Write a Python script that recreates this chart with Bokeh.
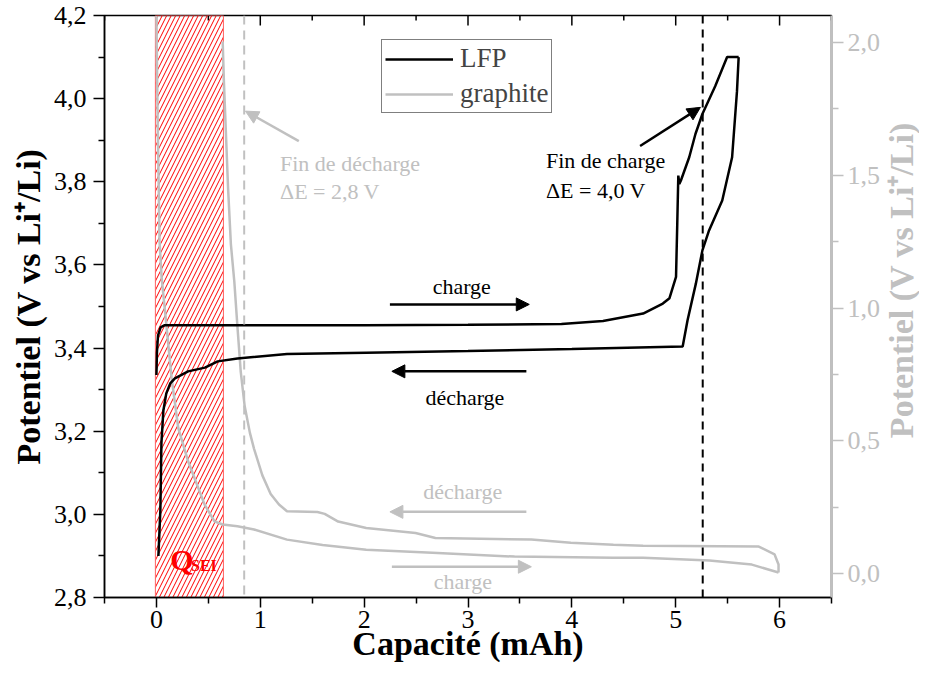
import math
from bokeh.plotting import figure
from bokeh.layouts import row
from bokeh.models import (Range1d, LinearAxis, FixedTicker, CustomJSTickFormatter, Arrow,
                          NormalHead, Label, Legend, LegendItem, Span)
from bokeh.embed import file_html
from bokeh.resources import INLINE

# ---------------- data ----------------
lfp_charge_x = [0.0, 0.005, 0.015, 0.04, 0.08, 0.5, 1.0, 2.0, 3.0, 3.9, 4.3, 4.686, 4.876,
                4.94, 5.003, 5.015, 5.025, 5.035, 5.05, 5.13, 5.19, 5.257, 5.38, 5.495, 5.606]
lfp_charge_y = [3.335, 3.39, 3.43, 3.45, 3.455, 3.455, 3.455, 3.455, 3.456, 3.458, 3.465, 3.483, 3.507,
                3.52, 3.571, 3.70, 3.815, 3.795, 3.803, 3.859, 3.915, 3.963, 4.03, 4.10, 4.10]

lfp_discharge_x = [5.606, 5.59, 5.543, 5.448, 5.321, 5.257, 5.194, 5.114, 5.067, 4.0, 3.0, 2.02,
                   1.257, 0.78, 0.59, 0.467, 0.305, 0.178, 0.133, 0.095, 0.067, 0.048, 0.038, 0.019]
lfp_discharge_y = [4.10, 4.018, 3.859, 3.755, 3.683, 3.635, 3.555, 3.467, 3.404, 3.398, 3.393, 3.389,
                   3.386, 3.375, 3.368, 3.353, 3.344, 3.327, 3.315, 3.291, 3.25, 3.171, 3.011, 2.90]

graphite_charge_x = [0.0, 0.012, 0.03, 0.05, 0.083, 0.146, 0.21, 0.305, 0.464, 0.559, 0.638, 0.78,
                     0.94, 1.257, 1.6, 2.02, 2.657, 3.448, 4.4, 4.686, 5.324, 5.733, 5.99]
graphite_charge_v = [2.10, 1.70, 1.25, 1.115, 0.988, 0.737, 0.549, 0.423, 0.26, 0.197, 0.185, 0.178,
                     0.166, 0.128, 0.108, 0.090, 0.079, 0.064, 0.06, 0.06, 0.049, 0.034, 0.004]

graphite_discharge_x = [5.99, 5.99, 5.952, 5.8, 4.686, 4.4, 3.99, 3.61, 2.686, 2.495, 2.02, 1.75,
                        1.62, 1.55, 1.257, 1.18, 1.10, 1.02, 0.94, 0.90, 0.85, 0.812, 0.78, 0.75,
                        0.717, 0.69, 0.667, 0.65, 0.638]
graphite_discharge_v = [0.004, 0.034, 0.072, 0.102, 0.105, 0.109, 0.116, 0.128, 0.134, 0.153, 0.172, 0.196,
                        0.225, 0.232, 0.235, 0.26, 0.30, 0.37, 0.47, 0.53, 0.63, 0.76, 0.93, 1.10,
                        1.24, 1.45, 1.68, 1.85, 2.004]

sei_range = [-0.01, 0.645]          # Q_SEI region (mAh)
end_discharge_x = 0.845             # fin de décharge
end_charge_x = 5.26                 # fin de charge

x_ticks = [0, 1, 2, 3, 4, 5, 6]
x_minor = [-0.5, 0.5, 1.5, 2.5, 3.5, 4.5, 5.5, 6.5]
left_ticks = [2.8, 3.0, 3.2, 3.4, 3.6, 3.8, 4.0, 4.2]
left_minor = [2.9, 3.1, 3.3, 3.5, 3.7, 3.9, 4.1]
right_ticks = [0.0, 0.5, 1.0, 1.5, 2.0]
right_minor = [0.25, 0.75, 1.25, 1.75]

GRAY = "#c0c0c0"
SERIF = "Liberation Serif"
Y_LABEL = "Potentiel (V vs Li\u207a/Li)"
AXIS_TITLE_SIZE = "34px"

Y0, Y1 = 2.8, 4.2
W_TOTAL, H = 919, 673
W_SIDE = 36
W = W_TOTAL - W_SIDE
B_LEFT, B_RIGHT, B_TOP, B_BOTTOM = 104, 50, 15, 76
FRAME_W = W - B_LEFT - B_RIGHT
FRAME_H = H - B_TOP - B_BOTTOM

p = figure(width=W, height=H, x_range=Range1d(-0.5, 6.5), y_range=Range1d(Y0, Y1),
           output_backend="svg", toolbar_location=None,
           min_border_left=B_LEFT, min_border_right=B_RIGHT,
           min_border_top=B_TOP, min_border_bottom=B_BOTTOM)
p.extra_y_ranges = {"right": Range1d(-0.090, 2.102)}
p.xgrid.visible = False
p.ygrid.visible = False
p.outline_line_color = "black"
p.outline_line_width = 1.5
p.background_fill_color = "white"

comma1 = CustomJSTickFormatter(code="return tick.toFixed(1).replace('.', ',');")
int0 = CustomJSTickFormatter(code="return tick.toFixed(0);")

def style_axis(ax, color, tick_font=26):
    ax.axis_line_color = color
    ax.axis_line_width = 1.5
    ax.major_tick_line_color = color
    ax.major_tick_line_width = 1.5
    ax.minor_tick_line_color = color
    ax.minor_tick_line_width = 1.5
    ax.major_label_text_color = color
    ax.major_label_text_font = SERIF
    ax.major_label_text_font_size = f"{tick_font}px"
    ax.axis_label_text_color = color
    ax.axis_label_text_font = SERIF
    ax.axis_label_text_font_style = "bold"
    ax.axis_label_text_font_size = AXIS_TITLE_SIZE

# left axis
ya = p.yaxis[0]
ya.ticker = FixedTicker(ticks=left_ticks, minor_ticks=left_minor)
ya.formatter = comma1
style_axis(ya, "black")
ya.major_tick_out = 11
ya.major_tick_in = 0
ya.minor_tick_out = 6
ya.minor_tick_in = 0
ya.major_label_standoff = 7
ya.axis_label = Y_LABEL
ya.axis_label_standoff = 4

# bottom axis
xa = p.xaxis[0]
xa.ticker = FixedTicker(ticks=x_ticks, minor_ticks=x_minor)
xa.formatter = int0
style_axis(xa, "black")
xa.major_tick_out = 10
xa.major_tick_in = 0
xa.minor_tick_out = 6
xa.minor_tick_in = 0
xa.major_label_standoff = 3
xa.axis_label = "Capacité (mAh)"
xa.axis_label_standoff = -6

# right axis (graphite)
ra = LinearAxis(y_range_name="right", ticker=FixedTicker(ticks=right_ticks, minor_ticks=right_minor),
                formatter=comma1)
style_axis(ra, GRAY)
ra.axis_line_width = 2
ra.major_tick_out = 12
ra.major_tick_in = 0
ra.minor_tick_out = 7
ra.minor_tick_in = 0
ra.major_label_standoff = 4
p.add_layout(ra, "right")

# inward ticks on the top frame edge
major_len = (Y1 - Y0) / FRAME_H * 10
minor_len = (Y1 - Y0) / FRAME_H * 5
p.segment(x0=x_ticks, y0=[Y1] * len(x_ticks), x1=x_ticks, y1=[Y1 - major_len] * len(x_ticks),
          line_color="black", line_width=1.5)
p.segment(x0=x_minor, y0=[Y1] * len(x_minor), x1=x_minor, y1=[Y1 - minor_len] * len(x_minor),
          line_color="black", line_width=1.5)

# SEI hatched region
p.quad(left=[sei_range[0]], right=[sei_range[1]], bottom=[Y0], top=[Y1],
       fill_color="white", fill_alpha=0.0, line_color="#ff6060", line_width=1,
       hatch_pattern="/", hatch_color="red", hatch_scale=9, hatch_weight=1.0)

# dashed verticals
p.add_layout(Span(location=end_discharge_x, dimension="height", line_color=GRAY,
                  line_dash="9 6", line_width=2))
p.add_layout(Span(location=end_charge_x, dimension="height", line_color="black",
                  line_dash="8 6", line_width=2))

# curves
r_g1 = p.line(graphite_charge_x, graphite_charge_v, y_range_name="right", line_color=GRAY, line_width=2.5)
p.line(graphite_discharge_x, graphite_discharge_v, y_range_name="right", line_color=GRAY, line_width=2.5)
r_l1 = p.line(lfp_charge_x, lfp_charge_y, line_color="black", line_width=2.5)
p.line(lfp_discharge_x, lfp_discharge_y, line_color="black", line_width=2.5)

# arrows
def arrow(x0, y0, x1, y1, color):
    p.add_layout(Arrow(end=NormalHead(size=13, fill_color=color, line_color=color),
                       x_start=x0, y_start=y0, x_end=x1, y_end=y1,
                       line_color=color, line_width=2.5))

arrow(2.248, 3.505, 3.59, 3.505, "black")
arrow(3.562, 3.344, 2.267, 3.344, "black")
arrow(3.562, 3.006, 2.248, 3.006, GRAY)
arrow(2.267, 2.874, 3.61, 2.874, GRAY)
arrow(1.371, 3.898, 0.857, 3.970, GRAY)
arrow(4.657, 3.886, 5.238, 3.979, "black")

def label(x, y, text, color, size="22px", align="left", baseline="middle", style="normal"):
    p.add_layout(Label(x=x, y=y, text=text, text_color=color, text_font=SERIF,
                       text_font_size=size, text_align=align, text_baseline=baseline,
                       text_font_style=style))

label(2.94, 3.548, "charge", "black", align="center")
label(2.97, 3.282, "décharge", "black", align="center")
label(2.95, 3.054, "décharge", GRAY, align="center")
label(2.95, 2.838, "charge", GRAY, align="center")
label(1.19, 3.845, "Fin de décharge", GRAY)
label(1.19, 3.776, "\u0394E = 2,8 V", GRAY)
label(3.75, 3.852, "Fin de charge", "black")
label(3.75, 3.780, "\u0394E = 4,0 V", "black")
label(0.133, 2.891, "Q", "red", size="30px", baseline="alphabetic", style="bold")
label(0.333, 2.876, "SEI", "red", size="16px", baseline="alphabetic", style="bold")

legend = Legend(items=[LegendItem(label="LFP", renderers=[r_l1]),
                       LegendItem(label="graphite", renderers=[r_g1])],
                location=(277, FRAME_H - 22 - 76), margin=0, padding=3, spacing=4,
                glyph_width=68, glyph_height=30, label_height=30, label_standoff=7,
                label_text_font=SERIF, label_text_font_size="27px",
                border_line_color="black", border_line_width=1.5,
                background_fill_color="white", background_fill_alpha=1.0)
p.add_layout(legend)

# side strip carrying the right-axis title (reads bottom to top, like the left one)
side = figure(width=W_SIDE, height=H, x_range=Range1d(0, 1), y_range=Range1d(0, 1),
              output_backend="svg", toolbar_location=None,
              x_axis_location=None, y_axis_location=None,
              min_border=0, min_border_left=0, min_border_right=0,
              min_border_top=0, min_border_bottom=0)
side.xgrid.visible = False
side.ygrid.visible = False
side.outline_line_color = None
side.add_layout(Label(x=0.5, y=1 - (B_TOP + FRAME_H / 2) / H, text=Y_LABEL, angle=math.pi / 2,
                      text_align="center", text_baseline="middle", text_font=SERIF,
                      text_font_size=AXIS_TITLE_SIZE, text_font_style="bold", text_color=GRAY))

layout = row(p, side, spacing=0)
open("out.html", "w").write(file_html(layout, INLINE))
